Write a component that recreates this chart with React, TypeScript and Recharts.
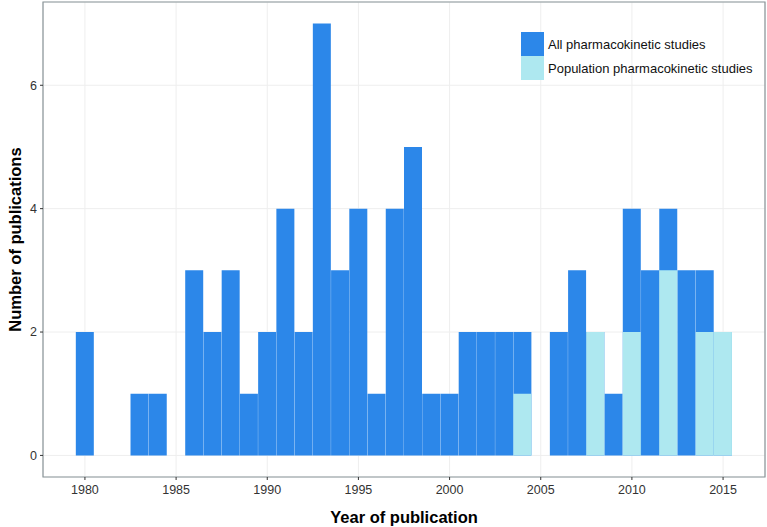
import React from 'react';
import {
  BarChart,
  Bar,
  XAxis,
  YAxis,
  CartesianGrid,
  ReferenceArea,
} from 'recharts';

const years = [
  1980, 1981, 1982, 1983, 1984, 1985, 1986, 1987, 1988, 1989, 1990, 1991,
  1992, 1993, 1994, 1995, 1996, 1997, 1998, 1999, 2000, 2001, 2002, 2003,
  2004, 2005, 2006, 2007, 2008, 2009, 2010, 2011, 2012, 2013, 2014, 2015,
];
const allStudies = [
  2, 0, 0, 1, 1, 0, 3, 2, 3, 1, 2, 4,
  2, 7, 3, 4, 1, 4, 5, 1, 1, 2, 2, 2,
  2, 0, 2, 3, 2, 1, 4, 3, 4, 3, 3, 2,
];
const popStudies = [
  0, 0, 0, 0, 0, 0, 0, 0, 0, 0, 0, 0,
  0, 0, 0, 0, 0, 0, 0, 0, 0, 0, 0, 0,
  1, 0, 0, 0, 2, 0, 2, 0, 3, 0, 2, 2,
];
const xTicks = [1980, 1985, 1990, 1995, 2000, 2005, 2010, 2015];
const yTicks = [0, 2, 4, 6];
const seriesNames = ['All pharmacokinetic studies', 'Population pharmacokinetic studies'];

const DARK = '#2c87e9';
const LIGHT = '#aee8f0';
const FONT = '"Liberation Sans", Arial, sans-serif';

// ggplot-style 5% expansion around the bins
const xDomain: [number, number] = [1977.7, 2017.3];
const yDomain: [number, number] = [-0.35, 7.35];

const data = years.map((year, i) => ({
  year,
  all: allStudies[i],
  pop: popStudies[i],
}));

function LegendBox() {
  const colors = [DARK, LIGHT];
  return (
    <div
      style={{
        position: 'absolute',
        left: 521,
        top: 32,
        fontFamily: FONT,
        fontSize: 13,
        color: '#111',
      }}
    >
      {seriesNames.map((name, i) => (
        <div key={name} style={{ display: 'flex', alignItems: 'center', height: 24 }}>
          <div style={{ width: 23, height: 24, background: colors[i] }} />
          <span style={{ marginLeft: 4, whiteSpace: 'nowrap' }}>{name}</span>
        </div>
      ))}
    </div>
  );
}

export default function App() {
  return (
    <div style={{ position: 'absolute', left: 0, top: 0, width: 767, height: 527, background: '#fff' }}>
      <BarChart
        width={767}
        height={527}
        data={data}
        margin={{ top: 2, right: 2, left: 0, bottom: 0 }}
        barCategoryGap={0}
        barGap={0}
      >
        <CartesianGrid stroke="#eeeeee" strokeWidth={1} />
        <XAxis
          dataKey="year"
          type="number"
          domain={xDomain}
          allowDataOverflow
          ticks={xTicks}
          height={50}
          axisLine={false}
          tickSize={3}
          tickMargin={5}
          tickLine={{ stroke: '#333' }}
          tick={{ fill: '#333', fontSize: 12.5, fontFamily: FONT }}
          label={{
            value: 'Year of publication',
            position: 'insideBottom',
            offset: 4,
            style: { fontFamily: FONT, fontSize: 16.5, fontWeight: 'bold', fill: '#000' },
          }}
        />
        <XAxis
          xAxisId="pop"
          dataKey="year"
          type="number"
          domain={xDomain}
          allowDataOverflow
          hide
        />
        <YAxis
          type="number"
          domain={yDomain}
          allowDataOverflow
          ticks={yTicks}
          width={43}
          axisLine={false}
          tickSize={3}
          tickMargin={3}
          tickLine={{ stroke: '#333' }}
          tick={{ fill: '#333', fontSize: 12.5, fontFamily: FONT }}
          label={{
            value: 'Number of publications',
            angle: -90,
            position: 'insideLeft',
            offset: 15,
            style: {
              fontFamily: FONT,
              fontSize: 16.5,
              fontWeight: 'bold',
              fill: '#000',
              textAnchor: 'middle',
            },
          }}
        />
        <Bar dataKey="all" name={seriesNames[0]} fill={DARK} isAnimationActive={false} />
        <Bar
          dataKey="pop"
          xAxisId="pop"
          name={seriesNames[1]}
          fill={LIGHT}
          isAnimationActive={false}
        />
        <ReferenceArea
          x1={xDomain[0]}
          x2={xDomain[1]}
          y1={yDomain[0]}
          y2={yDomain[1]}
          fill="none"
          stroke="#8a9599"
          strokeWidth={1.2}
          ifOverflow="visible"
        />
      </BarChart>
      <LegendBox />
    </div>
  );
}
